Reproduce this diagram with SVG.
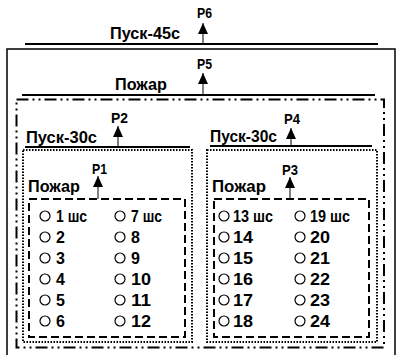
<svg xmlns="http://www.w3.org/2000/svg" width="397" height="355" viewBox="0 0 397 355">
<defs>
<style>
text{font-family:"Liberation Sans",Arial,sans-serif;font-weight:bold;fill:#000}
.t{font-size:17px}
.p{font-size:15px}
.n{font-size:16px}
.bus{stroke:#000;stroke-width:2;fill:none}
.sig{stroke:#000;stroke-width:1;fill:none}
.solid{stroke:#000;stroke-width:1.5;fill:none}
.dd{stroke:#000;stroke-width:2;fill:none;stroke-dasharray:12 4 2 4 2 4}
.dot{stroke:#000;stroke-width:2;fill:none;stroke-dasharray:1.5 1.5}
.dash{stroke:#000;stroke-width:2;fill:none;stroke-dasharray:8 4}
.c{stroke:#000;stroke-width:1.2;fill:none}
</style>
<marker id="ah" markerWidth="11" markerHeight="10" refX="11" refY="5" orient="auto" markerUnits="userSpaceOnUse" viewBox="0 0 11 10">
<path d="M0,0 L11,5 L0,10 Z" fill="#000"/>
</marker>
</defs>
<rect width="397" height="355" fill="#fff"/>

<g id="outer">
<rect class="solid" x="7" y="49" width="388" height="310"/>
</g>

<g id="zones">
<rect class="dd" x="16.5" y="99.5" width="367.5" height="248"/>
<rect class="dot" x="23" y="150" width="169" height="192"/>
<rect class="dot" x="207" y="150" width="170" height="192"/>
<rect class="dash" x="29" y="199" width="156" height="138"/>
<rect class="dash" x="214" y="199" width="155" height="138"/>
</g>

<g id="connectors">
<line class="bus" x1="25" y1="44" x2="378" y2="44"/>
<line class="bus" x1="22" y1="95" x2="375" y2="95"/>
<line class="bus" x1="25" y1="147" x2="190" y2="147"/>
<line class="bus" x1="210" y1="146" x2="372" y2="146"/>
<line class="sig" x1="203" y1="44" x2="203" y2="23" marker-end="url(#ah)"/>
<line class="sig" x1="203" y1="95" x2="203" y2="73" marker-end="url(#ah)"/>
<line class="sig" x1="118" y1="147" x2="118" y2="126" marker-end="url(#ah)"/>
<line class="sig" x1="291" y1="146" x2="291" y2="128" marker-end="url(#ah)"/>
<line class="sig" x1="98" y1="199" x2="98" y2="176" marker-end="url(#ah)"/>
<line class="sig" x1="290" y1="199" x2="290" y2="177" marker-end="url(#ah)"/>
</g>

<g id="labels">
<text class="t" x="110" y="39" textLength="70" lengthAdjust="spacingAndGlyphs">Пуск-45с</text>
<text class="p" x="197" y="18" textLength="15" lengthAdjust="spacingAndGlyphs">P6</text>
<text class="t" x="115" y="90" textLength="52" lengthAdjust="spacingAndGlyphs">Пожар</text>
<text class="p" x="197" y="69" textLength="15" lengthAdjust="spacingAndGlyphs">P5</text>
<text class="t" x="26" y="143" textLength="71" lengthAdjust="spacingAndGlyphs">Пуск-30с</text>
<text class="p" x="111" y="123" textLength="17" lengthAdjust="spacingAndGlyphs">P2</text>
<text class="t" x="210" y="142" textLength="67" lengthAdjust="spacingAndGlyphs">Пуск-30с</text>
<text class="p" x="284" y="124" textLength="16" lengthAdjust="spacingAndGlyphs">P4</text>
<text class="t" x="28" y="192" textLength="52" lengthAdjust="spacingAndGlyphs">Пожар</text>
<text class="p" x="92" y="174" textLength="15" lengthAdjust="spacingAndGlyphs">P1</text>
<text class="t" x="212" y="192" textLength="54" lengthAdjust="spacingAndGlyphs">Пожар</text>
<text class="p" x="282" y="175" textLength="16" lengthAdjust="spacingAndGlyphs">P3</text>
</g>

<g id="left-list">
<circle class="c" cx="45" cy="216" r="5"/><text class="n" x="56" y="222" textLength="31" lengthAdjust="spacingAndGlyphs">1 шс</text>
<circle class="c" cx="45" cy="237" r="5"/><text class="n" x="56" y="243">2</text>
<circle class="c" cx="45" cy="258" r="5"/><text class="n" x="56" y="264">3</text>
<circle class="c" cx="45" cy="279" r="5"/><text class="n" x="56" y="285">4</text>
<circle class="c" cx="45" cy="300" r="5"/><text class="n" x="56" y="306">5</text>
<circle class="c" cx="45" cy="321" r="5"/><text class="n" x="56" y="327">6</text>
<circle class="c" cx="120" cy="216" r="5"/><text class="n" x="131" y="222" textLength="31" lengthAdjust="spacingAndGlyphs">7 шс</text>
<circle class="c" cx="120" cy="237" r="5"/><text class="n" x="131" y="243">8</text>
<circle class="c" cx="120" cy="258" r="5"/><text class="n" x="131" y="264">9</text>
<circle class="c" cx="120" cy="279" r="5"/><text class="n" x="131" y="285" textLength="20" lengthAdjust="spacingAndGlyphs">10</text>
<circle class="c" cx="120" cy="300" r="5"/><text class="n" x="131" y="306" textLength="20" lengthAdjust="spacingAndGlyphs">11</text>
<circle class="c" cx="120" cy="321" r="5"/><text class="n" x="131" y="327" textLength="20" lengthAdjust="spacingAndGlyphs">12</text>
</g>

<g id="right-list">
<circle class="c" cx="224" cy="216" r="5"/><text class="n" x="233" y="222" textLength="40" lengthAdjust="spacingAndGlyphs">13 шс</text>
<circle class="c" cx="224" cy="237" r="5"/><text class="n" x="233" y="243" textLength="20" lengthAdjust="spacingAndGlyphs">14</text>
<circle class="c" cx="224" cy="258" r="5"/><text class="n" x="233" y="264" textLength="20" lengthAdjust="spacingAndGlyphs">15</text>
<circle class="c" cx="224" cy="279" r="5"/><text class="n" x="233" y="285" textLength="20" lengthAdjust="spacingAndGlyphs">16</text>
<circle class="c" cx="224" cy="300" r="5"/><text class="n" x="233" y="306" textLength="20" lengthAdjust="spacingAndGlyphs">17</text>
<circle class="c" cx="224" cy="321" r="5"/><text class="n" x="233" y="327" textLength="20" lengthAdjust="spacingAndGlyphs">18</text>
<circle class="c" cx="300" cy="216" r="5"/><text class="n" x="310" y="222" textLength="40" lengthAdjust="spacingAndGlyphs">19 шс</text>
<circle class="c" cx="300" cy="237" r="5"/><text class="n" x="310" y="243" textLength="20" lengthAdjust="spacingAndGlyphs">20</text>
<circle class="c" cx="300" cy="258" r="5"/><text class="n" x="310" y="264" textLength="20" lengthAdjust="spacingAndGlyphs">21</text>
<circle class="c" cx="300" cy="279" r="5"/><text class="n" x="310" y="285" textLength="20" lengthAdjust="spacingAndGlyphs">22</text>
<circle class="c" cx="300" cy="300" r="5"/><text class="n" x="310" y="306" textLength="20" lengthAdjust="spacingAndGlyphs">23</text>
<circle class="c" cx="300" cy="321" r="5"/><text class="n" x="310" y="327" textLength="20" lengthAdjust="spacingAndGlyphs">24</text>
</g>
</svg>
